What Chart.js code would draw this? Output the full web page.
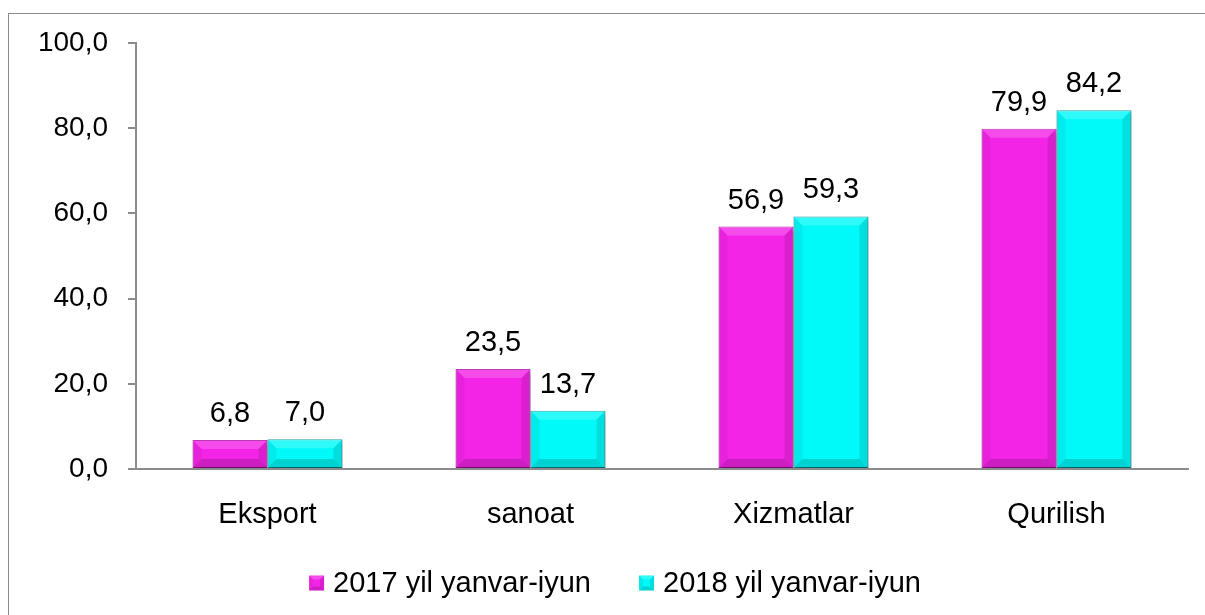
<!DOCTYPE html>
<html>
<head>
<meta charset="utf-8">
<script src="https://cdn.jsdelivr.net/npm/chart.js@4/dist/chart.umd.min.js"></script>
<style>
  html, body { margin: 0; padding: 0; background: #fff; overflow: hidden; }
  #wrap { position: relative; width: 1205px; height: 615px; }
  #frame { position: absolute; left: 8px; top: 13px; width: 1300px; height: 700px;
           border: 1px solid #8c8c8c; pointer-events: none; }
</style>
</head>
<body>
<div id="wrap">
  <canvas id="chart" width="1205" height="615"></canvas>
  <div id="frame"></div>
</div>
<script>
// Données du graphique
const categories = ['Eksport', 'sanoat', 'Xizmatlar', 'Qurilish'];
const seriesNames = ['2017 yil yanvar-iyun', '2018 yil yanvar-iyun'];
const values2017 = [6.8, 23.5, 56.9, 79.9];
const values2018 = [7.0, 13.7, 59.3, 84.2];
const yTicks = [0, 20, 40, 60, 80, 100];
const seriesColors = ['#F324E6', '#00F9F9'];
const seriesBorders = ['#B010A8', '#009E9E'];

const FONT = 'Arial, "Liberation Sans", sans-serif';
const FONT_SIZE = 29;
const TICK_SIZE = 28;

function fmt(v) {
    return v.toFixed(1).replace('.', ',');
}

// Dessine un rectangle biseauté
function bevel(ctx, l, t, r, b, d) {
    const faces = [
        ['rgba(255,255,255,0.18)', [[l, t], [r, t], [r - d, t + d], [l + d, t + d]]],
        ['rgba(0,0,0,0.05)', [[l, t], [l + d, t + d], [l + d, b - d], [l, b]]],
        ['rgba(0,0,0,0.10)', [[r, t], [r - d, t + d], [r - d, b - d], [r, b]]],
        ['rgba(0,0,0,0.16)', [[l, b], [l + d, b - d], [r - d, b - d], [r, b]]]
    ];
    faces.forEach(function (f) {
        ctx.fillStyle = f[0];
        ctx.beginPath();
        f[1].forEach(function (p, k) { k ? ctx.lineTo(p[0], p[1]) : ctx.moveTo(p[0], p[1]); });
        ctx.closePath();
        ctx.fill();
    });
}

// Ombre sous les barres
const shadowPlugin = {
    id: 'barShadow',
    beforeDatasetDraw(chart) {
        const ctx = chart.ctx;
        ctx.save();
        ctx.shadowColor = 'rgba(0,0,0,0.3)';
        ctx.shadowBlur = 5;
        ctx.shadowOffsetX = 2;
        ctx.shadowOffsetY = 3;
    },
    afterDatasetDraw(chart) {
        chart.ctx.restore();
    }
};

// Effet biseauté + étiquettes de valeurs
const bevelPlugin = {
    id: 'bevel',
    afterDatasetsDraw(chart) {
        const ctx = chart.ctx;
        chart.data.datasets.forEach(function (ds, i) {
            const meta = chart.getDatasetMeta(i);
            meta.data.forEach(function (bar, j) {
                const w = bar.width;
                const l = bar.x - w / 2, r = bar.x + w / 2;
                const t = bar.y, b = bar.base;
                const d = Math.min(9, (b - t) / 2, w / 2);
                ctx.save();
                bevel(ctx, l, t, r, b, d);
                ctx.restore();

                // étiquette
                ctx.save();
                ctx.fillStyle = '#000';
                ctx.font = FONT_SIZE + 'px ' + FONT;
                ctx.textAlign = 'center';
                ctx.textBaseline = 'alphabetic';
                ctx.fillText(fmt(ds.data[j]), bar.x, t - 18);
                ctx.restore();
            });
        });
    }
};

// Légende personnalisée (centrée sous le graphique)
const legendPlugin = {
    id: 'customLegend',
    afterDraw(chart) {
        const ctx = chart.ctx;
        const box = 15, gapText = 9, gapItem = 48;
        ctx.save();
        ctx.font = FONT_SIZE + 'px ' + FONT;
        ctx.textBaseline = 'middle';
        ctx.textAlign = 'left';
        const widths = seriesNames.map(function (s) { return ctx.measureText(s).width; });
        let total = 0;
        widths.forEach(function (w, i) { total += box + gapText + w + (i ? gapItem : 0); });
        let x = 615 - total / 2;
        const y = 583;
        seriesNames.forEach(function (s, i) {
            ctx.fillStyle = seriesColors[i];
            ctx.fillRect(x, y - box / 2, box, box);
            bevel(ctx, x, y - box / 2, x + box, y + box / 2, 4);
            ctx.fillStyle = '#000';
            ctx.fillText(s, x + box + gapText, y + 1);
            x += box + gapText + widths[i] + gapItem;
        });
        ctx.restore();
    }
};

const data = {
    labels: categories,
    datasets: [{
        label: seriesNames[0],
        data: values2017,
        backgroundColor: seriesColors[0],
        borderColor: seriesBorders[0],
        borderWidth: 1,
        borderSkipped: false
    }, {
        label: seriesNames[1],
        data: values2018,
        backgroundColor: seriesColors[1],
        borderColor: seriesBorders[1],
        borderWidth: 1,
        borderSkipped: false
    }]
};

const config = {
    type: 'bar',
    data: data,
    plugins: [shadowPlugin, bevelPlugin, legendPlugin],
    options: {
        responsive: false,
        animation: false,
        layout: { padding: { top: 43, right: 17, left: 0, bottom: 0 } },
        datasets: {
            bar: { categoryPercentage: 0.57, barPercentage: 1.0 }
        },
        scales: {
            x: {
                grid: { display: false },
                border: { display: true, color: '#8c8c8c', width: 2 },
                afterFit(axis) { axis.height = 615 - 469; },
                ticks: {
                    color: '#000',
                    padding: 21,
                    font: { family: FONT, size: FONT_SIZE }
                }
            },
            y: {
                min: 0,
                max: 100,
                afterBuildTicks(axis) {
                    axis.ticks = yTicks.map(function (v) { return { value: v }; });
                },
                afterFit(axis) { axis.width = 136; },
                grid: {
                    drawOnChartArea: false,
                    drawTicks: true,
                    tickLength: 8,
                    color: '#8c8c8c',
                    lineWidth: 2
                },
                border: { display: true, color: '#8c8c8c', width: 2 },
                ticks: {
                    color: '#000',
                    padding: 20,
                    font: { family: FONT, size: TICK_SIZE },
                    callback: function (v) { return fmt(v); }
                }
            }
        },
        plugins: {
            tooltip: { enabled: false },
            legend: { display: false }
        }
    }
};

new Chart(document.getElementById('chart'), config);
</script>
</body>
</html>
